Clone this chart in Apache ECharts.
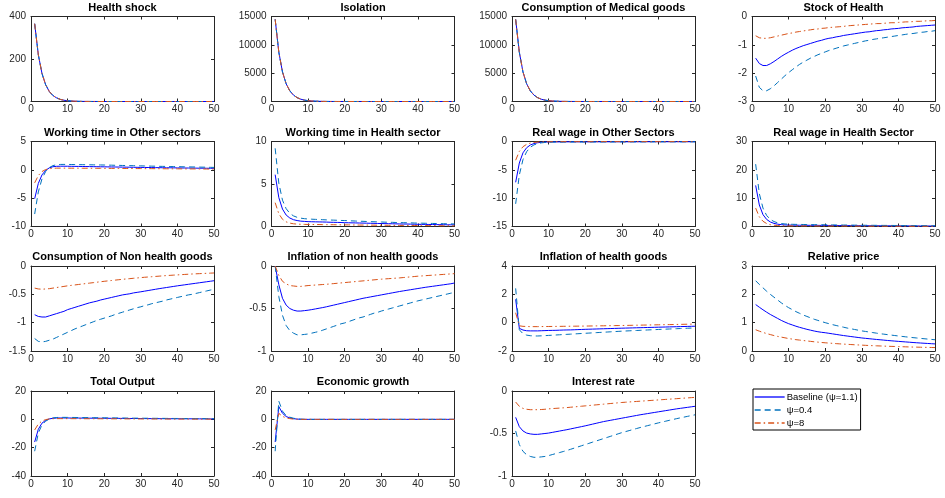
<!DOCTYPE html>
<html>
<head>
<meta charset="utf-8">
<script src="https://cdn.jsdelivr.net/npm/echarts@6/dist/echarts.min.js"></script>
<style>
html,body{margin:0;padding:0;background:#fff;}
#chart{width:945px;height:498px;}
</style>
</head>
<body>
<div id="chart"></div>
<script>
// ---------- DATA ----------
const seriesNames = ['Baseline (\u03C8=1.1)', '\u03C8=0.4', '\u03C8=8'];

const healthShock = [366,220,132,79,47,28,17,10,6,3.6, 2.2,1.3,0.8,0.5,0.3,0.2,0.1,0.1,0,0,
  0,0,0,0,0,0,0,0,0,0, 0,0,0,0,0,0,0,0,0,0, 0,0,0,0,0,0,0,0,0,0];

const isolation = [14500,8700,5220,3130,1880,1130,680,405,245,147, 88,53,32,19,11,7,4,2.5,1.5,0.9,
  0.5,0.3,0.2,0.1,0.1,0,0,0,0,0, 0,0,0,0,0,0,0,0,0,0, 0,0,0,0,0,0,0,0,0,0];

const medicalGoods = [14500,8700,5220,3130,1880,1130,680,405,245,147, 88,53,32,19,11,7,4,2.5,1.5,0.9,
  0.5,0.3,0.2,0.1,0.1,0,0,0,0,0, 0,0,0,0,0,0,0,0,0,0, 0,0,0,0,0,0,0,0,0,0];

const stockBase = [-1.47,-1.66,-1.73,-1.73,-1.67,-1.59,-1.50,-1.41,-1.33,-1.26,
  -1.19,-1.13,-1.08,-1.03,-0.99,-0.95,-0.91,-0.87,-0.84,-0.80,
  -0.77,-0.75,-0.72,-0.70,-0.67,-0.65,-0.63,-0.61,-0.59,-0.57,
  -0.55,-0.54,-0.52,-0.50,-0.49,-0.47,-0.46,-0.44,-0.43,-0.42,
  -0.40,-0.39,-0.38,-0.37,-0.35,-0.34,-0.33,-0.32,-0.31,-0.30];
const stockLow = [-2.10,-2.50,-2.62,-2.62,-2.55,-2.45,-2.33,-2.21,-2.09,-1.98,
  -1.88,-1.78,-1.69,-1.61,-1.54,-1.47,-1.41,-1.35,-1.30,-1.25,
  -1.20,-1.16,-1.12,-1.08,-1.04,-1.01,-0.98,-0.95,-0.92,-0.89,
  -0.86,-0.84,-0.81,-0.79,-0.77,-0.75,-0.73,-0.71,-0.69,-0.67,
  -0.65,-0.63,-0.61,-0.60,-0.58,-0.56,-0.55,-0.53,-0.52,-0.50];
const stockHigh = [-0.68,-0.75,-0.77,-0.77,-0.75,-0.72,-0.69,-0.66,-0.63,-0.60,
  -0.58,-0.55,-0.53,-0.51,-0.49,-0.47,-0.45,-0.44,-0.42,-0.41,
  -0.39,-0.38,-0.37,-0.36,-0.35,-0.33,-0.32,-0.31,-0.30,-0.29,
  -0.28,-0.27,-0.26,-0.25,-0.25,-0.24,-0.23,-0.22,-0.22,-0.21,
  -0.20,-0.19,-0.19,-0.18,-0.17,-0.17,-0.16,-0.15,-0.15,-0.14];

const workOtherBase = [-5.1,-2.4,-0.9,-0.1,0.35,0.55,0.62,0.64,0.64,0.63,
  0.62,0.61,0.60,0.59,0.58,0.57,0.56,0.55,0.54,0.53,
  0.52,0.51,0.50,0.49,0.48,0.47,0.46,0.45,0.44,0.43,
  0.42,0.41,0.40,0.39,0.38,0.37,0.36,0.36,0.35,0.34,
  0.33,0.32,0.32,0.31,0.30,0.29,0.29,0.28,0.27,0.27];
const workOtherLow = [-7.8,-3.9,-1.6,-0.3,0.4,0.75,0.9,0.95,0.96,0.95,
  0.94,0.93,0.92,0.91,0.90,0.89,0.88,0.87,0.86,0.85,
  0.83,0.82,0.80,0.79,0.77,0.76,0.74,0.73,0.71,0.70,
  0.68,0.67,0.65,0.64,0.62,0.61,0.60,0.58,0.57,0.56,
  0.55,0.53,0.52,0.51,0.50,0.48,0.47,0.46,0.44,0.43];
const workOtherHigh = [-2.3,-1.0,-0.3,0.05,0.2,0.27,0.3,0.3,0.3,0.3,
  0.29,0.29,0.29,0.28,0.28,0.28,0.27,0.27,0.27,0.26,
  0.26,0.25,0.25,0.25,0.24,0.24,0.23,0.23,0.22,0.22,
  0.21,0.21,0.21,0.20,0.20,0.19,0.19,0.18,0.18,0.18,
  0.17,0.17,0.16,0.16,0.16,0.15,0.15,0.14,0.14,0.13];

const workHealthBase = [6.1,3.4,2.05,1.35,1.0,0.8,0.7,0.63,0.6,0.57,
  0.56,0.55,0.54,0.53,0.52,0.50,0.49,0.48,0.47,0.45,
  0.44,0.43,0.42,0.41,0.40,0.39,0.38,0.37,0.36,0.35,
  0.34,0.33,0.32,0.31,0.30,0.29,0.29,0.28,0.27,0.26,
  0.25,0.25,0.24,0.23,0.22,0.22,0.21,0.20,0.20,0.19];
const workHealthLow = [9.2,5.1,3.1,2.1,1.55,1.25,1.08,0.98,0.92,0.88,
  0.86,0.84,0.82,0.80,0.78,0.76,0.75,0.73,0.71,0.70,
  0.68,0.66,0.64,0.62,0.61,0.59,0.57,0.56,0.54,0.53,
  0.51,0.50,0.49,0.47,0.46,0.45,0.44,0.43,0.41,0.40,
  0.39,0.38,0.37,0.36,0.35,0.34,0.33,0.32,0.31,0.30];
const workHealthHigh = [2.8,1.5,0.85,0.55,0.4,0.32,0.28,0.26,0.25,0.24,
  0.24,0.23,0.23,0.22,0.22,0.21,0.21,0.20,0.20,0.19,
  0.19,0.18,0.18,0.17,0.17,0.17,0.16,0.16,0.15,0.15,
  0.15,0.14,0.14,0.13,0.13,0.13,0.12,0.12,0.12,0.11,
  0.11,0.11,0.10,0.10,0.10,0.09,0.09,0.09,0.08,0.08];

const wageOtherBase = [-7.2,-3.8,-2.0,-1.1,-0.62,-0.36,-0.22,-0.14,-0.10,-0.08,
  -0.07,-0.07,-0.07,-0.07,-0.06,-0.06,-0.06,-0.06,-0.06,-0.06,
  -0.06,-0.06,-0.05,-0.05,-0.05,-0.05,-0.05,-0.05,-0.05,-0.05,
  -0.05,-0.05,-0.05,-0.05,-0.04,-0.04,-0.04,-0.04,-0.04,-0.04,
  -0.04,-0.04,-0.04,-0.04,-0.04,-0.04,-0.04,-0.04,-0.04,-0.04];
const wageOtherLow = [-11.0,-5.9,-3.2,-1.8,-1.02,-0.6,-0.37,-0.24,-0.17,-0.13,
  -0.11,-0.10,-0.10,-0.10,-0.09,-0.09,-0.09,-0.09,-0.09,-0.09,
  -0.08,-0.08,-0.08,-0.08,-0.08,-0.08,-0.08,-0.08,-0.07,-0.07,
  -0.07,-0.07,-0.07,-0.07,-0.07,-0.07,-0.07,-0.07,-0.06,-0.06,
  -0.06,-0.06,-0.06,-0.06,-0.06,-0.06,-0.06,-0.06,-0.06,-0.06];
const wageOtherHigh = [-3.3,-1.75,-0.92,-0.5,-0.28,-0.16,-0.10,-0.07,-0.05,-0.04,
  -0.04,-0.03,-0.03,-0.03,-0.03,-0.03,-0.03,-0.03,-0.03,-0.03,
  -0.03,-0.03,-0.03,-0.02,-0.02,-0.02,-0.02,-0.02,-0.02,-0.02,
  -0.02,-0.02,-0.02,-0.02,-0.02,-0.02,-0.02,-0.02,-0.02,-0.02,
  -0.02,-0.02,-0.02,-0.02,-0.02,-0.02,-0.02,-0.02,-0.02,-0.02];

const wageHealthBase = [14.5,7.6,4.2,2.5,1.6,1.1,0.82,0.65,0.55,0.5,
  0.48,0.46,0.45,0.44,0.43,0.42,0.41,0.40,0.39,0.38,
  0.37,0.36,0.35,0.34,0.33,0.32,0.31,0.30,0.29,0.28,
  0.28,0.27,0.26,0.26,0.25,0.24,0.24,0.23,0.22,0.22,
  0.21,0.21,0.20,0.20,0.19,0.18,0.18,0.17,0.17,0.16];
const wageHealthLow = [22,11.6,6.5,3.9,2.5,1.75,1.3,1.05,0.9,0.82,
  0.78,0.75,0.73,0.71,0.69,0.67,0.65,0.63,0.62,0.60,
  0.58,0.57,0.55,0.54,0.52,0.51,0.49,0.48,0.47,0.45,
  0.44,0.43,0.42,0.41,0.40,0.39,0.38,0.37,0.36,0.35,
  0.34,0.33,0.32,0.31,0.30,0.29,0.28,0.27,0.26,0.25];
const wageHealthHigh = [6.5,3.4,1.85,1.05,0.65,0.45,0.34,0.28,0.25,0.23,
  0.22,0.21,0.21,0.20,0.20,0.19,0.19,0.18,0.18,0.17,
  0.17,0.16,0.16,0.15,0.15,0.14,0.14,0.13,0.13,0.12,
  0.12,0.12,0.11,0.11,0.11,0.10,0.10,0.10,0.09,0.09,
  0.09,0.09,0.08,0.08,0.08,0.08,0.07,0.07,0.07,0.07];

const consBase = [-0.86,-0.89,-0.90,-0.90,-0.88,-0.86,-0.84,-0.82,-0.80,-0.77,
  -0.75,-0.73,-0.71,-0.69,-0.67,-0.65,-0.635,-0.62,-0.60,-0.585,
  -0.57,-0.555,-0.54,-0.525,-0.51,-0.50,-0.49,-0.475,-0.465,-0.455,
  -0.444,-0.433,-0.422,-0.411,-0.40,-0.39,-0.38,-0.37,-0.36,-0.35,
  -0.341,-0.332,-0.323,-0.314,-0.305,-0.296,-0.287,-0.278,-0.269,-0.26];
const consLow = [-1.28,-1.33,-1.34,-1.33,-1.31,-1.29,-1.26,-1.23,-1.20,-1.17,
  -1.14,-1.11,-1.085,-1.06,-1.035,-1.01,-0.985,-0.96,-0.94,-0.92,
  -0.90,-0.88,-0.855,-0.835,-0.815,-0.795,-0.775,-0.755,-0.735,-0.72,
  -0.70,-0.685,-0.665,-0.65,-0.635,-0.62,-0.60,-0.585,-0.57,-0.555,
  -0.54,-0.525,-0.51,-0.50,-0.485,-0.47,-0.455,-0.44,-0.425,-0.41];
const consHigh = [-0.39,-0.405,-0.41,-0.405,-0.40,-0.39,-0.38,-0.37,-0.36,-0.35,
  -0.342,-0.334,-0.326,-0.318,-0.31,-0.302,-0.294,-0.286,-0.278,-0.27,
  -0.263,-0.256,-0.249,-0.242,-0.235,-0.229,-0.223,-0.217,-0.211,-0.205,
  -0.199,-0.194,-0.189,-0.184,-0.179,-0.174,-0.169,-0.165,-0.161,-0.157,
  -0.153,-0.149,-0.145,-0.141,-0.138,-0.135,-0.132,-0.129,-0.126,-0.123];

const inflNonBase = [0,-0.22,-0.38,-0.46,-0.50,-0.52,-0.53,-0.53,-0.525,-0.52,
  -0.513,-0.505,-0.497,-0.489,-0.48,-0.47,-0.46,-0.45,-0.44,-0.43,
  -0.42,-0.41,-0.40,-0.39,-0.38,-0.372,-0.364,-0.356,-0.348,-0.34,
  -0.332,-0.324,-0.316,-0.308,-0.30,-0.293,-0.286,-0.279,-0.272,-0.265,
  -0.258,-0.251,-0.245,-0.239,-0.233,-0.227,-0.221,-0.215,-0.209,-0.20];
const inflNonLow = [0,-0.36,-0.58,-0.70,-0.76,-0.79,-0.81,-0.81,-0.805,-0.80,
  -0.79,-0.78,-0.77,-0.755,-0.74,-0.725,-0.71,-0.695,-0.68,-0.67,
  -0.655,-0.64,-0.625,-0.61,-0.60,-0.585,-0.57,-0.555,-0.545,-0.53,
  -0.518,-0.506,-0.494,-0.482,-0.47,-0.458,-0.446,-0.434,-0.422,-0.41,
  -0.40,-0.39,-0.38,-0.37,-0.36,-0.35,-0.34,-0.33,-0.32,-0.31];
const inflNonHigh = [0,-0.11,-0.18,-0.21,-0.23,-0.235,-0.24,-0.24,-0.235,-0.23,
  -0.227,-0.224,-0.221,-0.218,-0.215,-0.211,-0.207,-0.203,-0.199,-0.195,
  -0.191,-0.187,-0.183,-0.179,-0.175,-0.171,-0.167,-0.163,-0.159,-0.155,
  -0.152,-0.149,-0.146,-0.143,-0.14,-0.136,-0.132,-0.128,-0.124,-0.12,
  -0.117,-0.114,-0.111,-0.108,-0.105,-0.102,-0.099,-0.096,-0.093,-0.09];

const inflHealthBase = [1.65,-0.40,-0.52,-0.57,-0.58,-0.58,-0.58,-0.57,-0.56,-0.55,
  -0.545,-0.54,-0.53,-0.52,-0.515,-0.51,-0.50,-0.49,-0.48,-0.47,
  -0.462,-0.454,-0.446,-0.438,-0.43,-0.422,-0.414,-0.406,-0.398,-0.39,
  -0.383,-0.376,-0.369,-0.362,-0.355,-0.348,-0.341,-0.334,-0.327,-0.32,
  -0.313,-0.306,-0.299,-0.292,-0.285,-0.278,-0.271,-0.264,-0.257,-0.25];
const inflHealthLow = [2.42,-0.50,-0.78,-0.88,-0.92,-0.94,-0.94,-0.93,-0.915,-0.90,
  -0.885,-0.87,-0.855,-0.84,-0.825,-0.81,-0.795,-0.78,-0.765,-0.75,
  -0.735,-0.72,-0.705,-0.69,-0.675,-0.66,-0.645,-0.63,-0.615,-0.60,
  -0.588,-0.576,-0.564,-0.552,-0.54,-0.528,-0.516,-0.504,-0.492,-0.48,
  -0.469,-0.458,-0.447,-0.436,-0.425,-0.414,-0.403,-0.392,-0.381,-0.37];
const inflHealthHigh = [0.70,-0.22,-0.26,-0.27,-0.28,-0.28,-0.28,-0.275,-0.272,-0.27,
  -0.267,-0.264,-0.261,-0.258,-0.255,-0.252,-0.249,-0.246,-0.243,-0.24,
  -0.236,-0.232,-0.228,-0.224,-0.22,-0.216,-0.212,-0.208,-0.204,-0.20,
  -0.195,-0.19,-0.185,-0.18,-0.175,-0.17,-0.165,-0.16,-0.155,-0.15,
  -0.145,-0.14,-0.135,-0.13,-0.125,-0.12,-0.115,-0.11,-0.105,-0.10];

const relBase = [1.64,1.545,1.455,1.37,1.29,1.22,1.15,1.08,1.02,0.965,
  0.92,0.875,0.835,0.80,0.765,0.735,0.705,0.68,0.66,0.645,
  0.625,0.605,0.585,0.565,0.545,0.528,0.511,0.494,0.477,0.46,
  0.447,0.434,0.421,0.408,0.396,0.384,0.372,0.361,0.35,0.34,
  0.33,0.32,0.31,0.30,0.291,0.282,0.274,0.266,0.258,0.25];
const relLow = [2.48,2.35,2.23,2.11,2.0,1.9,1.8,1.7,1.61,1.53,
  1.46,1.39,1.33,1.27,1.22,1.17,1.12,1.08,1.04,1.0,
  0.965,0.93,0.9,0.87,0.84,0.81,0.785,0.76,0.735,0.71,
  0.69,0.67,0.65,0.63,0.61,0.595,0.578,0.562,0.546,0.53,
  0.515,0.5,0.486,0.472,0.459,0.446,0.433,0.421,0.409,0.397];
const relHigh = [0.75,0.70,0.655,0.615,0.58,0.545,0.515,0.49,0.465,0.44,
  0.42,0.40,0.385,0.37,0.355,0.34,0.325,0.313,0.3,0.29,
  0.28,0.27,0.26,0.252,0.244,0.236,0.228,0.221,0.214,0.207,
  0.2,0.194,0.188,0.183,0.178,0.173,0.168,0.163,0.159,0.155,
  0.151,0.147,0.143,0.139,0.136,0.133,0.13,0.127,0.124,0.121];

const outputBase = [-16,-7.0,-2.7,-0.7,0.3,0.75,0.92,0.97,0.97,0.95,
  0.93,0.91,0.89,0.87,0.85,0.83,0.81,0.79,0.77,0.75,
  0.73,0.71,0.69,0.67,0.65,0.63,0.61,0.59,0.57,0.55,
  0.53,0.52,0.50,0.49,0.47,0.46,0.44,0.43,0.42,0.40,
  0.39,0.38,0.37,0.36,0.35,0.34,0.33,0.32,0.31,0.30];
const outputLow = [-22.5,-9.7,-3.9,-1.3,0.2,1.0,1.3,1.4,1.4,1.37,
  1.34,1.31,1.28,1.25,1.22,1.19,1.16,1.13,1.10,1.07,
  1.04,1.01,0.98,0.95,0.92,0.89,0.86,0.84,0.82,0.80,
  0.78,0.76,0.74,0.72,0.70,0.68,0.66,0.64,0.62,0.60,
  0.58,0.57,0.55,0.54,0.52,0.51,0.49,0.48,0.46,0.45];
const outputHigh = [-7.5,-3.3,-1.2,-0.2,0.3,0.45,0.5,0.5,0.49,0.48,
  0.47,0.46,0.45,0.44,0.43,0.42,0.41,0.40,0.39,0.38,
  0.37,0.36,0.35,0.34,0.33,0.32,0.31,0.30,0.29,0.28,
  0.27,0.26,0.25,0.24,0.23,0.22,0.21,0.20,0.19,0.18,
  0.17,0.17,0.16,0.15,0.15,0.14,0.13,0.13,0.12,0.12];

const growthBase = [-16,9.0,4.3,2.0,1.0,0.45,0.17,0.05,0,-0.02,
  -0.02,-0.02,-0.02,-0.02,-0.02,-0.02,-0.02,-0.02,-0.02,-0.02,
  -0.02,-0.02,-0.02,-0.02,-0.02,-0.02,-0.02,-0.02,-0.02,-0.02,
  -0.01,-0.01,-0.01,-0.01,-0.01,-0.01,-0.01,-0.01,-0.01,-0.01,
  -0.01,-0.01,-0.01,-0.01,-0.01,-0.01,-0.01,-0.01,-0.01,-0.01];
const growthLow = [-22.5,12.8,5.8,2.6,1.5,0.8,0.3,0.1,0,-0.03,
  -0.03,-0.03,-0.03,-0.03,-0.03,-0.03,-0.03,-0.03,-0.03,-0.03,
  -0.03,-0.03,-0.03,-0.03,-0.03,-0.03,-0.03,-0.02,-0.02,-0.02,
  -0.02,-0.02,-0.02,-0.02,-0.02,-0.02,-0.02,-0.02,-0.02,-0.02,
  -0.02,-0.01,-0.01,-0.01,-0.01,-0.01,-0.01,-0.01,-0.01,-0.01];
const growthHigh = [-7.5,4.2,2.1,1.0,0.5,0.15,0.05,0,-0.01,-0.01,
  -0.01,-0.01,-0.01,-0.01,-0.01,-0.01,-0.01,-0.01,-0.01,-0.01,
  -0.01,-0.01,-0.01,-0.01,-0.01,-0.01,-0.01,-0.01,-0.01,-0.01,
  -0.01,-0.01,-0.01,-0.01,-0.01,-0.01,-0.01,-0.01,-0.01,-0.01,
  -0.01,-0.01,-0.01,-0.01,-0.01,-0.01,-0.01,-0.01,-0.01,-0.01];

const interestBase = [-0.31,-0.42,-0.47,-0.495,-0.505,-0.51,-0.51,-0.505,-0.50,-0.495,
  -0.487,-0.479,-0.471,-0.463,-0.455,-0.446,-0.437,-0.428,-0.419,-0.41,
  -0.40,-0.39,-0.38,-0.37,-0.36,-0.352,-0.344,-0.336,-0.328,-0.32,
  -0.312,-0.304,-0.296,-0.288,-0.28,-0.273,-0.266,-0.259,-0.252,-0.245,
  -0.238,-0.231,-0.224,-0.217,-0.21,-0.204,-0.198,-0.192,-0.186,-0.18];
const interestLow = [-0.47,-0.63,-0.71,-0.75,-0.77,-0.78,-0.78,-0.775,-0.77,-0.76,
  -0.748,-0.736,-0.724,-0.712,-0.70,-0.686,-0.672,-0.658,-0.644,-0.63,
  -0.616,-0.602,-0.588,-0.574,-0.56,-0.546,-0.532,-0.518,-0.504,-0.49,
  -0.478,-0.466,-0.454,-0.442,-0.43,-0.419,-0.408,-0.397,-0.386,-0.375,
  -0.365,-0.355,-0.345,-0.335,-0.325,-0.316,-0.307,-0.298,-0.289,-0.28];
const interestHigh = [-0.13,-0.18,-0.205,-0.215,-0.22,-0.22,-0.22,-0.218,-0.215,-0.21,
  -0.207,-0.204,-0.201,-0.198,-0.195,-0.191,-0.187,-0.183,-0.179,-0.175,
  -0.171,-0.167,-0.163,-0.159,-0.155,-0.151,-0.147,-0.143,-0.139,-0.135,
  -0.132,-0.129,-0.126,-0.123,-0.12,-0.117,-0.114,-0.111,-0.108,-0.105,
  -0.102,-0.099,-0.096,-0.093,-0.09,-0.087,-0.084,-0.081,-0.078,-0.075];

// panel titles and y-axis ranges (min, max, interval)
const panelTitles = ['Health shock','Isolation','Consumption of Medical goods','Stock of Health',
  'Working time in Other sectors','Working time in Health sector','Real wage in Other Sectors','Real wage in Health Sector',
  'Consumption of Non health goods','Inflation of non health goods','Inflation of health goods','Relative price',
  'Total Output','Economic growth','Interest rate'];
const yRanges = [[0,400,200],[0,15000,5000],[0,15000,5000],[-3,0,1],
  [-10,5,5],[0,10,5],[-15,0,5],[0,30,10],
  [-1.5,0,0.5],[-1,0,0.5],[-2,4,2],[0,3,1],
  [-40,20,20],[-40,20,20],[-1,0,0.5]];
const xTicks = [0,10,20,30,40,50];
const panelData = [
  [healthShock, healthShock, healthShock],
  [isolation, isolation, isolation],
  [medicalGoods, medicalGoods, medicalGoods],
  [stockBase, stockLow, stockHigh],
  [workOtherBase, workOtherLow, workOtherHigh],
  [workHealthBase, workHealthLow, workHealthHigh],
  [wageOtherBase, wageOtherLow, wageOtherHigh],
  [wageHealthBase, wageHealthLow, wageHealthHigh],
  [consBase, consLow, consHigh],
  [inflNonBase, inflNonLow, inflNonHigh],
  [inflHealthBase, inflHealthLow, inflHealthHigh],
  [relBase, relLow, relHigh],
  [outputBase, outputLow, outputHigh],
  [growthBase, growthLow, growthHigh],
  [interestBase, interestLow, interestHigh]
];

// ---------- LAYOUT / STYLE ----------
const colLeft = [31, 271.5, 512, 752];
const rowTop = [16.5, 141.5, 266, 391];
const gW = 183, gH = 85;
const titleTop = [2, 127, 251, 376];
const axisColor = '#262626';
const font = 'Liberation Sans, Arial, Helvetica, sans-serif';
const styles = [
  {color: '#0000FF', type: 'solid'},
  {color: '#0072BD', type: [6, 4]},
  {color: '#D95319', type: [6, 3, 1.5, 3]}
];
const fmt = v => String(v);

const grid = [], xAxis = [], yAxis = [], series = [], title = [];
panelTitles.forEach((t, i) => {
  const col = i % 4, row = Math.floor(i / 4);
  grid.push({left: colLeft[col], top: rowTop[row], width: gW, height: gH, containLabel: false});
  title.push({text: t, left: colLeft[col] + gW / 2, top: titleTop[row], textAlign: 'center', padding: 0,
    textStyle: {fontSize: 11, fontWeight: 'bold', color: '#000', fontFamily: font}});
  const xmin = xTicks[0], xmax = xTicks[xTicks.length - 1], xint = xTicks[1] - xTicks[0];
  const [ymin, ymax, yint] = yRanges[i];
  const common = {axisLine: {show: true, onZero: false, lineStyle: {color: axisColor, width: 1}},
    axisTick: {show: true, inside: true, length: 3, lineStyle: {color: axisColor}},
    splitLine: {show: false}};
  xAxis.push(Object.assign({type: 'value', gridIndex: i, position: 'bottom', min: xmin, max: xmax, interval: xint,
    axisLabel: {fontSize: 10, color: axisColor, margin: 3, fontFamily: font, formatter: fmt}}, common));
  xAxis.push(Object.assign({type: 'value', gridIndex: i, position: 'top', min: xmin, max: xmax, interval: xint,
    axisLabel: {show: false}}, common));
  yAxis.push(Object.assign({type: 'value', gridIndex: i, position: 'left', min: ymin, max: ymax, interval: yint,
    axisLabel: {fontSize: 10, color: axisColor, margin: 5, fontFamily: font, formatter: fmt}}, common));
  yAxis.push(Object.assign({type: 'value', gridIndex: i, position: 'right', min: ymin, max: ymax, interval: yint,
    axisLabel: {show: false}}, common));
  panelData[i].forEach((arr, k) => {
    series.push({
      name: seriesNames[k], type: 'line', xAxisIndex: 2 * i, yAxisIndex: 2 * i,
      data: arr.map((v, j) => [j + 1, v]),
      symbol: 'none', showSymbol: false, smooth: false, clip: true,
      lineStyle: {color: styles[k].color, width: 1, type: styles[k].type},
      itemStyle: {color: styles[k].color},
      z: 2 + k
    });
  });
});

const chart = echarts.init(document.getElementById('chart'), null, {renderer: 'canvas'});
chart.setOption({
  animation: false,
  backgroundColor: '#fff',
  title: title,
  grid: grid,
  xAxis: xAxis,
  yAxis: yAxis,
  legend: {
    data: seriesNames, orient: 'vertical', left: 753, top: 389,
    padding: [3, 3, 2, 1], itemGap: 3, itemWidth: 30, itemHeight: 10,
    borderColor: '#000', borderWidth: 1, backgroundColor: '#fff',
    itemStyle: {opacity: 0},
    lineStyle: {width: 1.3},
    textStyle: {fontSize: 9.5, color: '#000', fontFamily: font, padding: [0, 0, 0, -3]},
    selectedMode: false
  },
  series: series
});
</script>
</body>
</html>
